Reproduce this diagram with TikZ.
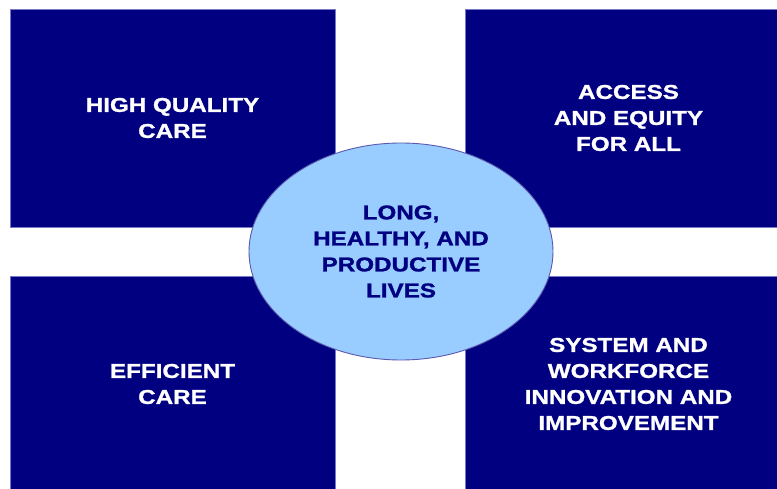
\documentclass[tikz,border=0pt]{standalone}
\usepackage{fontspec}
\usetikzlibrary{fit,shapes.geometric}

\newfontfamily\widesans{Liberation Sans}[FakeStretch=1.21, BoldFeatures={FakeBold=1.2}]
\definecolor{navyblue}{RGB}{0,0,128}
\definecolor{paleblue}{RGB}{153,204,255}
\definecolor{rimblue}{RGB}{90,90,175}
\definecolor{edgeblue}{RGB}{120,120,200}

\tikzset{
    quad/.style={draw=edgeblue, line width=0.5pt, fill=navyblue, inner sep=0pt},
    quadtext/.style={align=center, text=white, font=\widesans\bfseries\fontsize{20}{26}\selectfont},
    hub/.style={ellipse, draw=rimblue, line width=0.9pt, fill=paleblue, minimum width=304pt, minimum height=217pt,
        inner sep=0pt, align=center, text=navyblue, font=\widesans\bfseries\fontsize{20}{26}\selectfont}
}

\begin{document}
\begin{tikzpicture}[x=1pt, y=-1pt]
        \useasboundingbox (0,0) rectangle (777,489);
        \clip (0,0) rectangle (777,489);
        \fill[white] (0,0) rectangle (777,489);

        \node[quad, fit={(10, 9) (335, 227)},   label={[quadtext]center:{HIGH QUALITY\\CARE}}] (A) {};
        \node[quad, fit={(465, 9) (792, 227)},  label={[quadtext]center:{ACCESS\\AND EQUITY\\FOR ALL}}] (B) {};
        \node[quad, fit={(10, 276) (335, 492)}, label={[quadtext]center:{EFFICIENT\\CARE}}] (C) {};
        \node[quad, fit={(465, 276) (792, 492)}, label={[quadtext]center:{SYSTEM AND\\WORKFORCE\\INNOVATION AND\\IMPROVEMENT}}] (D) {};

        \node[hub] (E) at (401, 251.5) {LONG,\\HEALTHY, AND\\PRODUCTIVE\\LIVES};
    \end{tikzpicture}
\end{document}
